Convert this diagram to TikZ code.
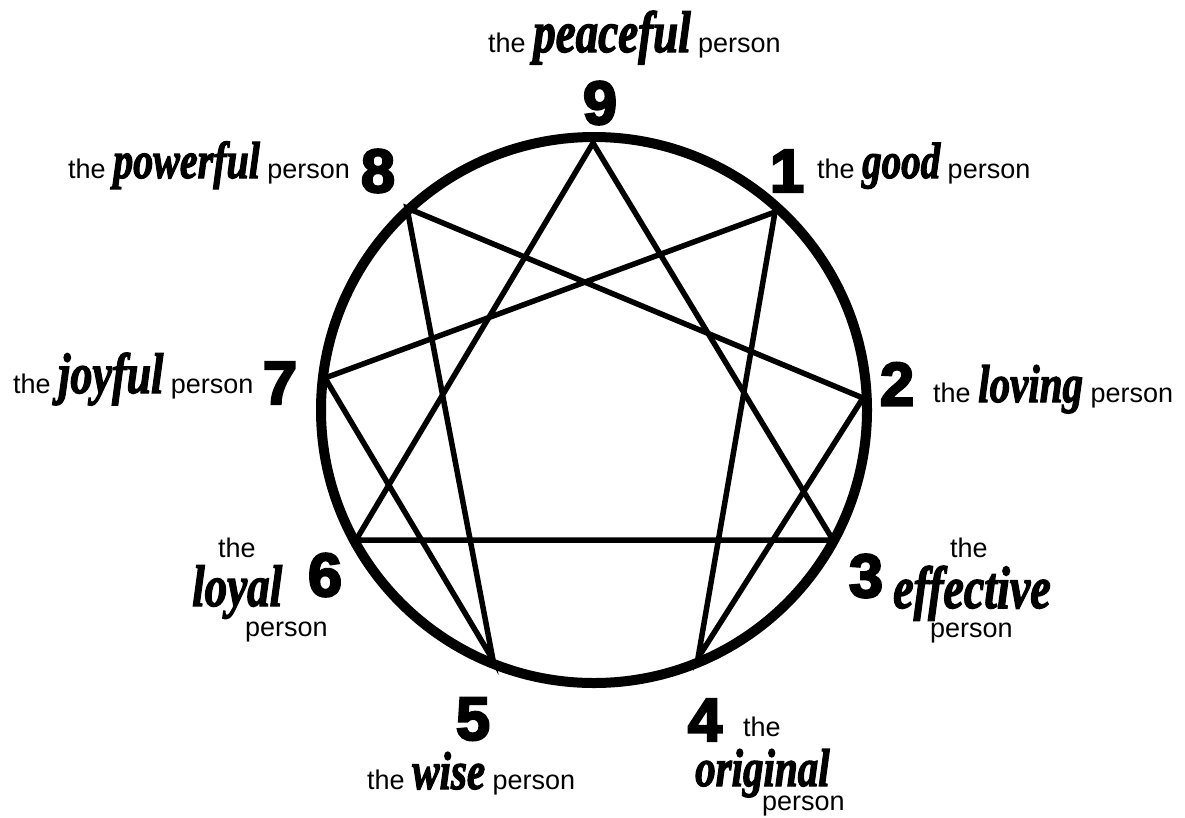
\documentclass[tikz,border=0pt]{standalone}
\usepackage{graphicx}
\usepackage{fontspec}
\setmainfont{Liberation Sans}
\newfontfamily\digitfont[BoldFeatures={FakeBold=4}]{Liberation Sans}
\newfontfamily\brushfont[BoldItalicFeatures={FakeBold=2.5}]{Liberation Serif}
\newcommand\bw[2]{\scalebox{1}[1.3]{\brushfont\bfseries\itshape\fontsize{#1}{#1}\selectfont #2}}

\begin{document}
\begin{tikzpicture}[x=1pt,y=-1pt,line cap=round,
  num/.style={font=\digitfont\bfseries\fontsize{61}{61}\selectfont,inner sep=0pt},
  lbl/.style={font=\fontsize{27}{30}\selectfont,inner sep=0pt,anchor=base west},
  edge/.style={line width=5.5pt,line join=miter}]
\useasboundingbox (0,0) rectangle (1185,817);
% points of the figure
\coordinate (p9) at (593,143);
\coordinate (p1) at (775,212);
\coordinate (p2) at (863,398);
\coordinate (p3) at (833,540);
\coordinate (p4) at (698,658);
\coordinate (p5) at (493,660);
\coordinate (p6) at (356,540);
\coordinate (p7) at (325,378);
\coordinate (p8) at (407,208);
\draw[edge] (p9) -- (p3) -- (p6) -- cycle;
\draw[edge] (p1) -- (p4) -- (p2) -- (p8) -- (p5) -- (p7) -- cycle;
\draw[line width=10pt] (594,410) circle (273pt);
% numbers
\node[num] (n9) at (600,103) {9};
\node[num] (n1) at (787,171) {1};
\node[num] (n2) at (897,384) {2};
\node[num] (n3) at (866,576) {3};
\node[num] (n4) at (705,720) {4};
\node[num] (n5) at (473,719) {5};
\node[num] (n6) at (325,575) {6};
\node[num] (n7) at (280,383) {7};
\node[num] (n8) at (378,171) {8};
% labels
\node[lbl] (t9) at (488,52) {the \bw{45}{peaceful} person};
\node[lbl] (t1) at (817,178) {the \bw{39}{good} person};
\node[lbl] (t2) at (933,402) {the \bw{41}{loving} person};
\node[lbl] (t3a) at (950,557) {the};
\node[lbl] (t3b) at (893,608) {\bw{46}{effective}};
\node[lbl] (t3c) at (930,637) {person};
\node[lbl] (t4a) at (743,736) {the};
\node[lbl] (t4b) at (695,786) {\bw{41}{original}};
\node[lbl] (t4c) at (762,810) {person};
\node[lbl] (t5) at (367,789) {the \bw{41}{wise} person};
\node[lbl] (t6a) at (218,557) {the};
\node[lbl] (t6b) at (192,606) {\bw{45}{loyal}};
\node[lbl] (t6c) at (245,636) {person};
\node[lbl] (t7) at (13,393) {the \bw{44}{joyful} person};
\node[lbl] (t8) at (68,178) {the \bw{40}{powerful} person};
\end{tikzpicture}
\end{document}
